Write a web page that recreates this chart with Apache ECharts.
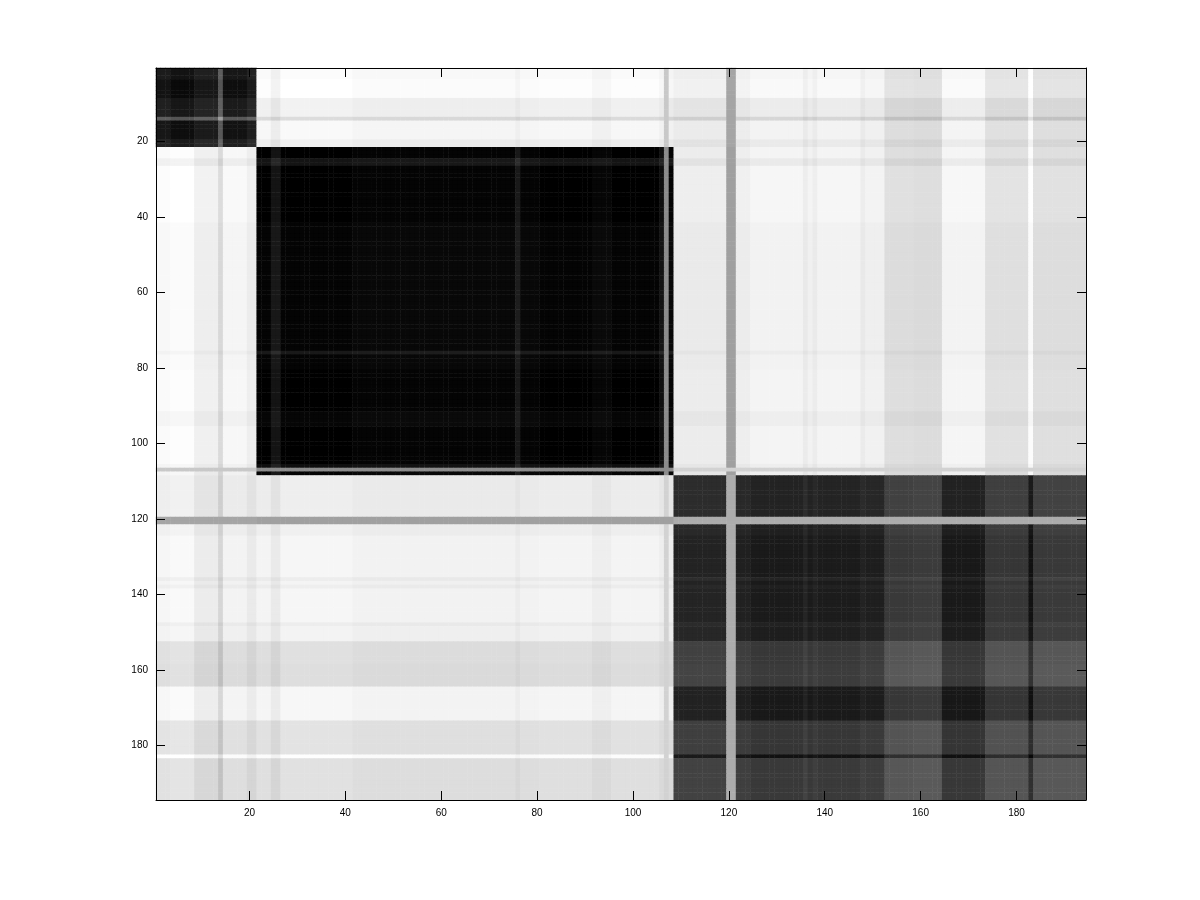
<!DOCTYPE html>
<html><head><meta charset="utf-8">
<script src="https://cdn.jsdelivr.net/npm/echarts@6/dist/echarts.min.js"></script>
<style>html,body{margin:0;padding:0;background:#fff}#chart{width:1200px;height:900px}</style>
</head><body><div id="chart"></div>
<script>
// ---- data (gray levels 0 = black ... 255 = white) ----
const N = 194;
const tickValues = [20, 40, 60, 80, 100, 120, 140, 160, 180];
const clusterLast = [21, 108, 194];          // clusters: 1-21, 22-108, 109-194
const ownBase = [8, 0, 26];                   // gray level inside each diagonal block
const offBaseAB = 255, offBaseAC = 249, offBaseBC = 246; // off-diagonal block levels
// index segments: start, end, lightening inside own block, darkening outside it
const segStart = [1, 4, 9, 14, 15, 20, 22, 25, 27, 42, 76, 77, 81, 92, 96, 106, 107, 108, 109, 120, 122, 125, 136, 137, 138, 139, 148, 149, 153, 159, 165, 174, 183, 184];
const segEnd   = [3, 8, 13, 14, 19, 21, 24, 26, 41, 75, 76, 80, 91, 95, 105, 106, 107, 108, 119, 121, 124, 135, 136, 137, 138, 147, 148, 152, 158, 164, 173, 182, 183, 194];
const segIn    = [10, 1, 14, 75, 5, 18, 0, 20, 0, 4, 25, 4, 0, 6, 0, 15, 0, 4, 9, 0, 6, 0, 10, 0, 6, 1, 8, 4, 30, 33, -1, 28, -9, 31];
const segOut   = [3, 0, 13, 35, 6, 15, 2, 12, 0, 4, 10, 4, 2, 8, 2, 8, 0, 8, 8, 0, 6, 0, 9, 2, 8, 0, 9, 3, 22, 24, -1, 19, -8, 21];
// indices with a nearly flat profile (gray lines), level against each cluster
const outlierIdx = [107, 120, 121];
const outlierVsA = [200, 165, 165];
const outlierVsB = [140, 160, 160];
const outlierVsC = [210, 172, 172];

// ---- build the matrix from the arrays above ----
const cats = Array.from({length: N}, (_, k) => String(k + 1));
const dIn = new Array(N + 1).fill(0), dOut = new Array(N + 1).fill(0);
segStart.forEach((s, k) => { for (let i = s; i <= segEnd[k]; i++) { dIn[i] = segIn[k]; dOut[i] = segOut[k]; } });
const cl = i => i <= clusterLast[0] ? 0 : (i <= clusterLast[1] ? 1 : 2);
const offBase = [[0, offBaseAB, offBaseAC], [offBaseAB, 0, offBaseBC], [offBaseAC, offBaseBC, 0]];
const outVals = [outlierVsA, outlierVsB, outlierVsC];
function val(i, j) {
  let k = outlierIdx.indexOf(i);
  if (k >= 0) return outVals[cl(j)][k];
  k = outlierIdx.indexOf(j);
  if (k >= 0) return outVals[cl(i)][k];
  const ci = cl(i), cj = cl(j);
  const v = ci === cj ? ownBase[ci] + dIn[i] + dIn[j] : offBase[ci][cj] - dOut[i] - dOut[j];
  return Math.max(0, Math.min(255, v));
}
const data = [];
for (let r = 1; r <= N; r++) for (let c = 1; c <= N; c++) data.push([c - 1, r - 1, val(r, c)]);

const showTick = idx => tickValues.includes(idx + 1);
const font = {color: '#000', fontSize: 10, fontFamily: '"Liberation Sans", Arial, sans-serif'};
function axis(pos, labels, extra) {
  return Object.assign({
    type: 'category', data: cats, position: pos, z: 10,
    axisLine: {show: true, lineStyle: {color: '#000', width: 1}},
    axisTick: {show: true, inside: true, length: 9, alignWithLabel: true, interval: showTick, lineStyle: {color: '#000'}},
    axisLabel: Object.assign({show: labels, interval: showTick, margin: 8}, font),
    splitLine: {show: false}, splitArea: {show: false}
  }, extra || {});
}
const chart = echarts.init(document.getElementById('chart'), null, {renderer: 'canvas'});
chart.setOption({
  animation: false,
  backgroundColor: '#fff',
  grid: {left: 156, top: 68, width: 930, height: 732, containLabel: false},
  xAxis: [axis('bottom', true), axis('top', false)],
  yAxis: [axis('left', true, {inverse: true}), axis('right', false, {inverse: true})],
  visualMap: {show: false, min: 0, max: 255, dimension: 2, seriesIndex: 0,
    inRange: {color: ['#000000', '#ffffff']}},
  series: [{type: 'heatmap', xAxisIndex: 0, yAxisIndex: 0, data: data,
    progressive: 0, emphasis: {disabled: true}, itemStyle: {borderWidth: 0}}]
});
</script></body></html>
